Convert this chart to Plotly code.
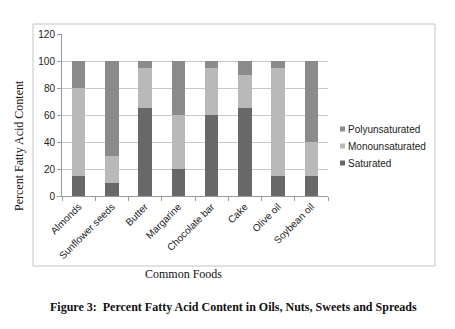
import plotly.graph_objects as go

foods = ["Almonds", "Sunflower seeds", "Butter", "Margarine",
         "Chocolate bar", "Cake", "Olive oil", "Soybean oil"]
saturated = [15, 10, 65, 20, 60, 65, 15, 15]
monounsaturated = [65, 20, 30, 40, 35, 25, 80, 25]
polyunsaturated = [20, 70, 5, 40, 5, 10, 5, 60]
y_ticks = [0, 20, 40, 60, 80, 100, 120]

series = [
    ("Saturated", saturated, "#686868"),
    ("Monounsaturated", monounsaturated, "#b9b9b9"),
    ("Polyunsaturated", polyunsaturated, "#8b8b8b"),
]

W, H = 455, 329
ML, MR, MT, MB = 62, 127, 34, 133
PW, PH = W - ML - MR, H - MT - MB


def px_x(x):
    return (x - ML) / PW


def px_y(y):
    return (H - MB - y) / PH


sans = "Liberation Sans, Arial, sans-serif"
serif = "Liberation Serif, Times New Roman, serif"

fig = go.Figure()
for name, vals, color in series:
    fig.add_trace(go.Bar(x=foods, y=vals, name=name, marker_color=color,
                         marker_line_width=0, width=0.4, showlegend=False))

# compact legend: small square swatch right next to each label (top item = last series)
shapes = [dict(type="rect", xref="paper", yref="paper",
               x0=px_x(33), x1=px_x(435), y0=px_y(266), y1=px_y(24),
               line=dict(color="#c4c4c4", width=1), layer="below")]
annotations = []
for i, (name, _, color) in enumerate(reversed(series)):
    cy = 129 + 17 * i
    shapes.append(dict(type="rect", xref="paper", yref="paper",
                       x0=px_x(340), x1=px_x(345), y0=px_y(cy + 2.5), y1=px_y(cy - 2.5),
                       fillcolor=color, line=dict(width=0)))
    annotations.append(dict(text=name, xref="paper", yref="paper",
                            x=px_x(346), y=px_y(cy), xanchor="left", yanchor="middle",
                            showarrow=False, font=dict(family=sans, size=10, color="#222")))

annotations += [
    dict(text="Common Foods", xref="paper", yref="paper", x=px_x(183), y=px_y(274),
         xanchor="center", yanchor="middle", showarrow=False,
         font=dict(family=serif, size=12, color="#111")),
    dict(text="Percent Fatty Acid Content", xref="paper", yref="paper",
         x=px_x(19), y=px_y(146), xanchor="center", yanchor="middle", textangle=-90,
         showarrow=False, font=dict(family=serif, size=12, color="#111")),
    dict(text="<b>Figure 3:  Percent Fatty Acid Content in Oils, Nuts, Sweets and Spreads</b>",
         xref="paper", yref="paper", x=px_x(233), y=px_y(307),
         xanchor="center", yanchor="middle", showarrow=False,
         font=dict(family=serif, size=12, color="#111")),
]

fig.update_layout(
    width=W, height=H,
    margin=dict(l=ML, r=MR, t=MT, b=MB),
    barmode="stack",
    paper_bgcolor="white", plot_bgcolor="white",
    font=dict(family=sans, size=10, color="#222"),
    xaxis=dict(
        tickangle=-45, tickfont=dict(family=sans, size=10, color="#222"),
        showline=True, linecolor="#9a9a9a", linewidth=1,
        ticks="outside", ticklen=4, tickcolor="#9a9a9a",
        tickson="boundaries", showgrid=False,
    ),
    yaxis=dict(
        range=[0, 120], tickvals=y_ticks, tickfont=dict(family=sans, size=10, color="#222"),
        showline=True, linecolor="#9a9a9a", linewidth=1,
        ticks="outside", ticklen=4, tickcolor="#9a9a9a",
        showgrid=True, gridcolor="#c8c8c8", gridwidth=1, zeroline=False,
    ),
    shapes=shapes,
    annotations=annotations,
)

fig.write_html("out.html")
